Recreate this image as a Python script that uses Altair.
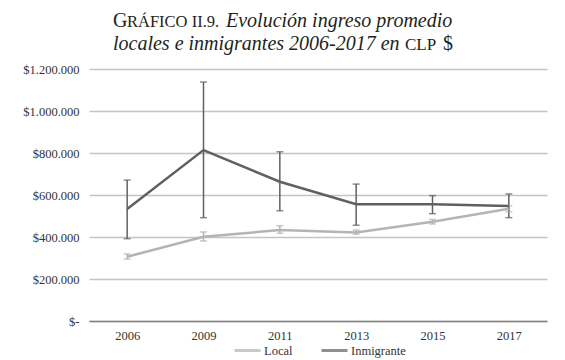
import altair as alt
import pandas as pd

years = ["2006", "2009", "2011", "2013", "2015", "2017"]
local_mean = [306000, 401000, 433000, 422000, 473000, 535000]
local_low = [295000, 381000, 418000, 413000, 462000, 520000]
local_high = [319000, 424000, 454000, 433000, 484000, 549000]
inm_mean = [533000, 814000, 663000, 556000, 556000, 548000]
inm_low = [392000, 492000, 525000, 456000, 511000, 492000]
inm_high = [671000, 1138000, 806000, 652000, 597000, 605000]
series = ["Local", "Inmigrante"]
colors = ["#b4b4b4", "#606060"]

rows = []
for i, y in enumerate(years):
    rows.append({"year": y, "serie": "Local", "mean": local_mean[i], "low": local_low[i], "high": local_high[i]})
for i, y in enumerate(years):
    rows.append({"year": y, "serie": "Inmigrante", "mean": inm_mean[i], "low": inm_low[i], "high": inm_high[i]})
df = pd.DataFrame(rows)

FONT = "Liberation Serif"

xenc = alt.X("year:O", scale=alt.Scale(type="point", padding=0.5),
             axis=alt.Axis(title=None, labelAngle=0, labelFont=FONT, labelFontSize=12.5,
                           labelColor="#333333", labelPadding=8, ticks=False,
                           domainColor="#808080", domainWidth=1.5, grid=False))
yscale = alt.Scale(domain=[0, 1200000])
color = alt.Color("serie:N", scale=alt.Scale(domain=series, range=colors),
                  legend=alt.Legend(title=None, orient="none", legendX=144, legendY=267,
                                    direction="horizontal", symbolType="stroke",
                                    symbolStrokeWidth=3, symbolSize=676,
                                    labelFont=FONT, labelFontSize=12.5, labelColor="#333333",
                                    labelOffset=2, columnPadding=22, padding=0))

base = alt.Chart(df)

lines = base.mark_line(strokeWidth=2.5).encode(
    x=xenc,
    y=alt.Y("mean:Q", scale=yscale,
            axis=alt.Axis(title=None, values=[0, 200000, 400000, 600000, 800000, 1000000, 1200000],
                          labelExpr="datum.value == 0 ? '$-' : '$' + replace(format(datum.value, ','), /,/g, '.')",
                          labelFont=FONT, labelFontSize=12.5, labelColor="#333333",
                          labelPadding=10, ticks=False, domain=False,
                          gridColor="#c4c4c4", gridWidth=1.5)),
    color=color,
    order=alt.Order("year:O"),
)

rules = base.mark_rule(strokeWidth=1.5).encode(
    x=xenc, y=alt.Y("low:Q", scale=yscale), y2="high:Q", color=color)
tick_lo = base.mark_tick(size=7, thickness=1.5).encode(
    x=xenc, y=alt.Y("low:Q", scale=yscale), color=color)
tick_hi = base.mark_tick(size=7, thickness=1.5).encode(
    x=xenc, y=alt.Y("high:Q", scale=yscale), color=color)

one = pd.DataFrame({"a": [0]})
def txt(s, x, y, size, style="normal"):
    return alt.Chart(one).mark_text(text=s, align="left", baseline="alphabetic", font=FONT,
                                    fontSize=size, fontStyle=style, color="#231f20").encode(
        x=alt.value(x), y=alt.value(y))

title = [
    txt("G", 24, -42, 20),
    txt("RÁFICO II.9.", 38, -42, 16.5),
    txt("Evolución ingreso promedio", 137, -42, 20, "italic"),
    txt("locales e inmigrantes 2006-2017 en", 24, -19, 20, "italic"),
    txt("CLP", 316, -19, 17),
    txt("$", 354, -19, 20),
]

chart = alt.layer(rules, tick_lo, tick_hi, lines, *title).properties(
    width=458, height=252,
    autosize=alt.AutoSizeParams(type="none"),
    padding={"left": 81, "top": 61, "right": 10, "bottom": 44},
    background="white",
).configure_view(stroke=None).configure_axis(labelFont=FONT).configure_legend(labelFont=FONT)

chart.save("out.html", embed_options={"renderer": "svg", "actions": False})
